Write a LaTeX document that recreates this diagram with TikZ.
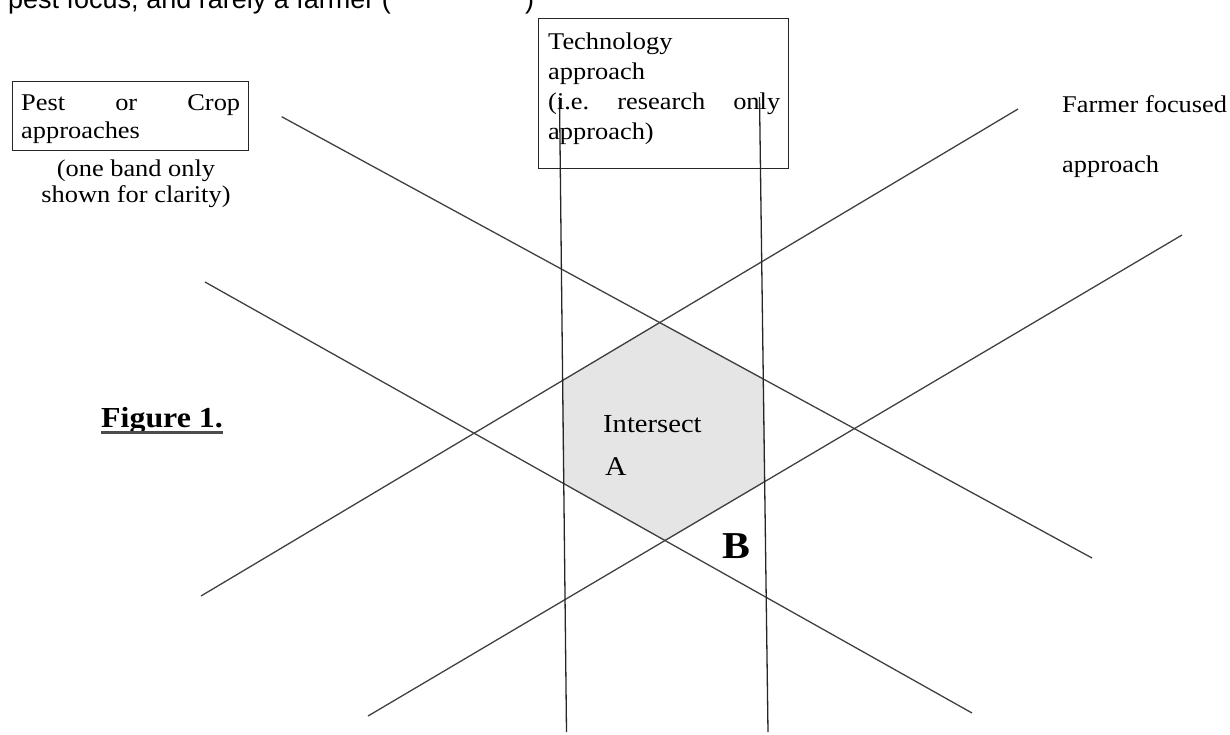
\documentclass[tikz,border=0pt]{standalone}
\usepackage{fontspec}
\setmainfont[FakeStretch=1.1]{Liberation Serif}
\newfontfamily\topsans{Liberation Sans}
\begin{document}
\begin{tikzpicture}[x=1pt,y=-1pt,
  band/.style={line width=1.3pt, draw=black!75},
  frame/.style={draw=black!85, line width=1.4pt, inner sep=0pt, anchor=north west},
  txt/.style={inner sep=0pt, anchor=base west, text=black},
  hexfill/.style={fill=black!10, draw=black!22, line width=1pt}]
\useasboundingbox (0,0) rectangle (1230,734);

% clipped line of text at the very top
\node[txt, font=\topsans\fontsize{27}{30}\selectfont] (toptext) at (8,8) {pest focus, and rarely a farmer (};
\node[txt, font=\topsans\fontsize{27}{30}\selectfont] (topclose) at (525,8) {)};

% band end points
\coordinate (d1a) at (281.7,116.7); \coordinate (d1b) at (1092,558);
\coordinate (d2a) at (205,282);     \coordinate (d2b) at (972,713);
\coordinate (a1a) at (201,596);     \coordinate (a1b) at (1018,109);
\coordinate (a2a) at (368,716);     \coordinate (a2b) at (1182,235);
\coordinate (v1a) at (559.5,97);    \coordinate (v1b) at (566.5,732);
\coordinate (v2a) at (759.5,97);    \coordinate (v2b) at (768,732);

% hexagon corners
\coordinate (htop) at (intersection of d1a--d1b and a1a--a1b);
\coordinate (hur)  at (intersection of d1a--d1b and v2a--v2b);
\coordinate (hlr)  at (intersection of a2a--a2b and v2a--v2b);
\coordinate (hbot) at (intersection of d2a--d2b and a2a--a2b);
\coordinate (hll)  at (intersection of d2a--d2b and v1a--v1b);
\coordinate (hul)  at (intersection of a1a--a1b and v1a--v1b);
\filldraw[hexfill] (htop) -- (hur) -- (hlr) -- (hbot) -- (hll) -- (hul) -- cycle;

% bands
\draw[band] (d1a) -- (d1b);
\draw[band] (d2a) -- (d2b);
\draw[band] (a1a) -- (a1b);
\draw[band] (a2a) -- (a2b);
\draw[band, draw=black!85] (v1a) -- (v1b);
\draw[band, draw=black!85] (v2a) -- (v2b);

% Pest or Crop box
\node[frame, minimum width=236pt, minimum height=69pt] (pestbox) at (12,81) {};
\node[txt, text width=219pt, align=left, font=\fontsize{24}{28}\selectfont] (pesttext) at (21,110)
  {\makebox[219pt][s]{Pest\hfill or\hfill Crop}\\approaches};
\node[inner sep=0pt, anchor=base, align=center, text=black, font=\fontsize{24}{26}\selectfont] (pestnote) at (136,202)
  {(one band only\\shown for clarity)};

% Technology box
\node[frame, minimum width=250pt, minimum height=150pt] (techbox) at (538,18) {};
\node[txt, text width=232pt, align=left, font=\fontsize{24}{30}\selectfont] (techtext) at (548,49)
  {Technology\\approach\\\makebox[232pt][s]{(i.e.\hfill research\hfill only}\\approach)};

% Farmer focused
\node[txt, font=\fontsize{24}{30}\selectfont] (farmer1) at (1062,112) {Farmer focused};
\node[txt, font=\fontsize{24}{30}\selectfont] (farmer2) at (1062,172) {approach};

% Figure label
\node[txt, font=\bfseries\fontsize{29}{32}\selectfont] (fig) at (101,427) {Figure 1.};
\draw[line width=2.6pt, black!70] ([yshift=-5.5pt]fig.base west) -- ([yshift=-5.5pt]fig.base east);

% labels in the intersection
\node[txt, font=\fontsize{26}{30}\selectfont] (inter) at (603,432) {Intersect};
\node[txt, font=\fontsize{27}{30}\selectfont] (labA) at (605,475) {A};
\node[txt, font=\bfseries\fontsize{38}{40}\selectfont] (labB) at (722,558) {B};
\end{tikzpicture}
\end{document}
